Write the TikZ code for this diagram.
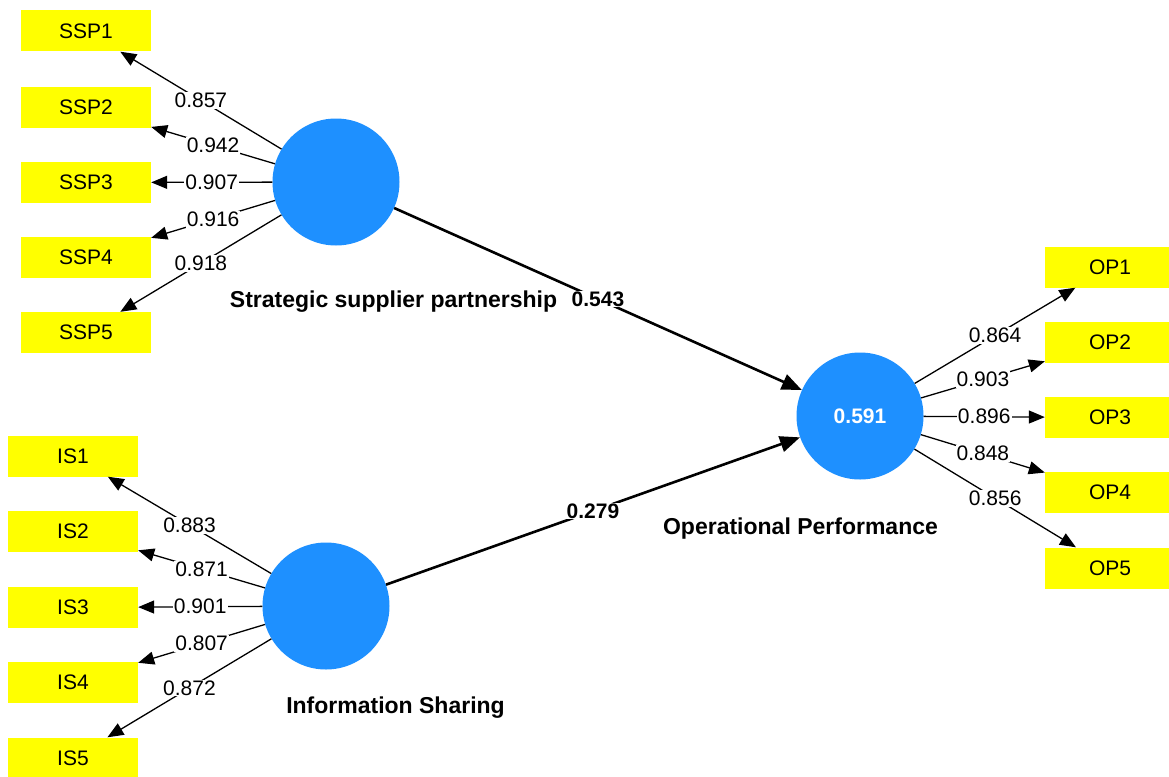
\documentclass[tikz,border=0pt]{standalone}
\usepackage{fontspec}
\setmainfont{Liberation Sans}
\usetikzlibrary{arrows.meta}
\definecolor{indyellow}{RGB}{255,255,0}
\definecolor{latblue}{RGB}{30,144,255}
\begin{document}
\begin{tikzpicture}[x=1pt,y=-1pt,
  indbox/.style={fill=indyellow, minimum width=130pt, minimum height=41pt, inner sep=0pt,
    font=\fontsize{21pt}{25pt}\selectfont},
  latent/.style={circle, fill=latblue, minimum size=127pt, inner sep=0pt, text=white,
    font=\bfseries\fontsize{21pt}{25pt}\selectfont},
  loadline/.style={line width=1.3pt, -{Triangle[length=16pt,width=13pt]}},
  structline/.style={line width=2.6pt, -{Triangle[length=20pt,width=16pt]}},
  loadlbl/.style={fill=white, inner sep=1pt, font=\fontsize{21pt}{25pt}\selectfont},
  structlbl/.style={fill=white, inner sep=1pt, font=\bfseries\fontsize{21pt}{25pt}\selectfont},
  constlbl/.style={anchor=base, inner sep=0pt, font=\bfseries\fontsize{23pt}{27pt}\selectfont}
]
\useasboundingbox (0,0) rectangle (1169,776);
\fill[white] (0,0) rectangle (1169,776);
\clip (0,0) rectangle (1169,776);

% indicator boxes
\node[indbox] (ssp1) at (86,31) {SSP1};
\node[indbox] (ssp2) at (86,107.5) {SSP2};
\node[indbox] (ssp3) at (86,182.5) {SSP3};
\node[indbox] (ssp4) at (86,257.5) {SSP4};
\node[indbox] (ssp5) at (86,332.5) {SSP5};

\node[indbox] (is1) at (73,456) {IS1};
\node[indbox] (is2) at (73,531) {IS2};
\node[indbox] (is3) at (73,607.5) {IS3};
\node[indbox] (is4) at (73,682.5) {IS4};
\node[indbox] (is5) at (73,758) {IS5};

\node[indbox] (op1) at (1110,267) {OP1};
\node[indbox] (op2) at (1110,342) {OP2};
\node[indbox] (op3) at (1110,417.5) {OP3};
\node[indbox] (op4) at (1110,492.5) {OP4};
\node[indbox] (op5) at (1110,568) {OP5};

% latent variables
\node[latent] (ssp) at (336,182) {};
\node[latent] (is) at (326,606) {};
\node[latent] (op) at (860,416) {0.591};

% loadings
\draw[loadline] (ssp) -- node[loadlbl]{0.857} (ssp1);
\draw[loadline] (ssp) -- node[loadlbl]{0.942} (ssp2);
\draw[loadline] (ssp) -- node[loadlbl]{0.907} (ssp3);
\draw[loadline] (ssp) -- node[loadlbl]{0.916} (ssp4);
\draw[loadline] (ssp) -- node[loadlbl]{0.918} (ssp5);

\draw[loadline] (is) -- node[loadlbl]{0.883} (is1);
\draw[loadline] (is) -- node[loadlbl]{0.871} (is2);
\draw[loadline] (is) -- node[loadlbl]{0.901} (is3);
\draw[loadline] (is) -- node[loadlbl]{0.807} (is4);
\draw[loadline] (is) -- node[loadlbl]{0.872} (is5);

\draw[loadline] (op) -- node[loadlbl]{0.864} (op1);
\draw[loadline] (op) -- node[loadlbl]{0.903} (op2);
\draw[loadline] (op) -- node[loadlbl]{0.896} (op3);
\draw[loadline] (op) -- node[loadlbl]{0.848} (op4);
\draw[loadline] (op) -- node[loadlbl]{0.856} (op5);

% structural paths
\draw[structline] (ssp) -- node[structlbl]{0.543} (op);
\draw[structline] (is) -- node[structlbl]{0.279} (op);

% construct names
\node[constlbl] (sspname) at (393.5,307) {Strategic supplier partnership};
\node[constlbl] (isname) at (395.5,713) {Information Sharing};
\node[constlbl] (opname) at (800.5,534) {Operational Performance};
\end{tikzpicture}
\end{document}
